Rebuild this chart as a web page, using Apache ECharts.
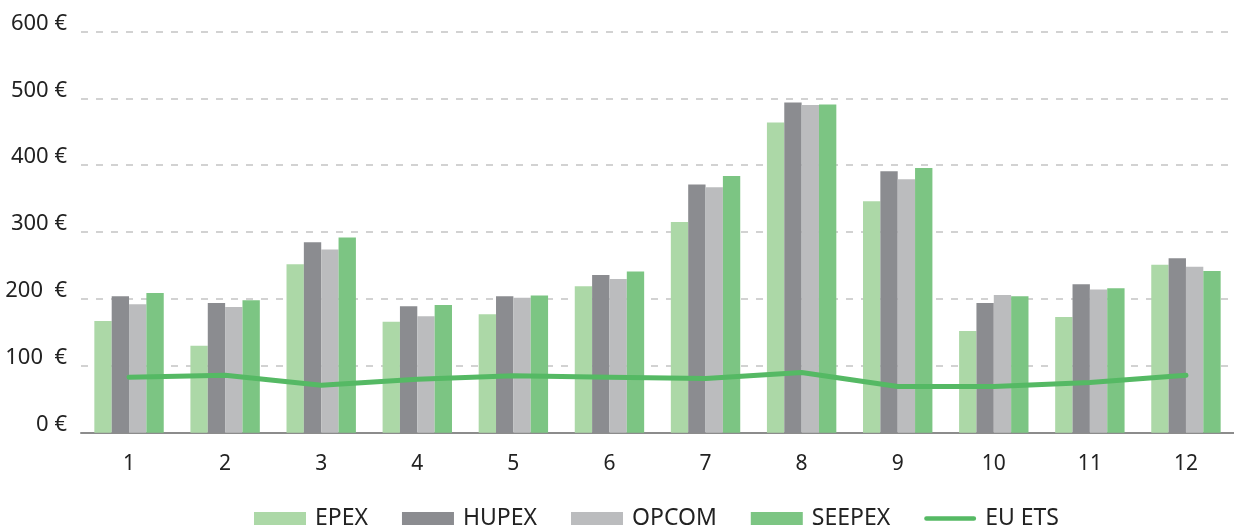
<!DOCTYPE html>
<html>
<head>
<meta charset="utf-8">
<script src="https://cdn.jsdelivr.net/npm/echarts@6/dist/echarts.min.js"></script>
<style>
html,body{margin:0;padding:0;background:#fff;}
#chart{width:1234px;height:529px;}
</style>
</head>
<body>
<div id="chart"></div>
<script>
const categories = ['1','2','3','4','5','6','7','8','9','10','11','12'];
const yTickLabels = ['0 €','100  €','200  €','300 €','400 €','500 €','600 €'];
const epex   = [167, 130, 252, 166, 177, 219, 315, 464, 346, 152, 173, 251];
const hupex  = [204, 194, 285, 189, 204, 236, 371, 494, 391, 194, 222, 261];
const opcom  = [192, 188, 274, 174, 202, 230, 367, 490, 379, 206, 214, 248];
const seepex = [209, 198, 292, 191, 205, 241, 384, 491, 396, 204, 216, 242];
const euEts  = [83, 86, 71, 80, 85, 83, 81, 90, 69, 69, 75, 86];

const FONT = '"Noto Sans", sans-serif';
const LINE_ICON = 'path://M2.5,4 h51 a2.5,2.5 0 0 1 0,5 h-51 a2.5,2.5 0 0 1 0,-5 z M0,0 h0.01 v0.01 h-0.01 z M56,13 h0.01 v0.01 h-0.01 z';
const chart = echarts.init(document.getElementById('chart'), null, {renderer:'canvas'});
const barCommon = { type:'bar', barWidth:17.35, barGap:'0%' };
chart.setOption({
  animation:false,
  grid:{left:81, right:0, top:31.5, bottom:96.3, containLabel:false},
  legend:{
    left:249, top:502, itemWidth:52, itemHeight:13, itemGap:34,
    textStyle:{fontFamily:FONT, fontSize:23, color:'#222', padding:[0,0,0,4]},
    data:[
      {name:'EPEX', icon:'rect'},
      {name:'HUPEX', icon:'rect'},
      {name:'OPCOM', icon:'rect'},
      {name:'SEEPEX', icon:'rect'},
      {name:'EU ETS', icon:LINE_ICON, itemStyle:{color:'#55b964'}}
    ]
  },
  xAxis:{
    type:'category', data:categories,
    axisLine:{lineStyle:{color:'#8c8c8c', width:2}},
    axisTick:{show:false},
    axisLabel:{fontFamily:FONT, fontSize:21, color:'#222', margin:21}
  },
  yAxis:{
    type:'value', min:0, max:600, interval:100,
    axisLine:{show:false}, axisTick:{show:false},
    splitLine:{lineStyle:{color:'#c4c4c4', type:[7,8], width:1.5}},
    axisLabel:{
      fontFamily:FONT, fontSize:22, color:'#222', margin:14,
      verticalAlign:'bottom', lineHeight:16,
      formatter:(v)=>yTickLabels[Math.round(v/100)]
    }
  },
  series:[
    Object.assign({name:'EPEX', data:epex, itemStyle:{color:'#acd8a7'}}, barCommon),
    Object.assign({name:'HUPEX', data:hupex, itemStyle:{color:'#8b8c90'}}, barCommon),
    Object.assign({name:'OPCOM', data:opcom, itemStyle:{color:'#bbbcbe'}}, barCommon),
    Object.assign({name:'SEEPEX', data:seepex, itemStyle:{color:'#7cc583'}}, barCommon),
    {name:'EU ETS', type:'line', data:euEts, showSymbol:false, symbol:'none',
     lineStyle:{color:'#55b964', width:5, cap:'round', join:'round'},
     itemStyle:{color:'#55b964'}, z:5}
  ]
});
</script>
</body>
</html>
